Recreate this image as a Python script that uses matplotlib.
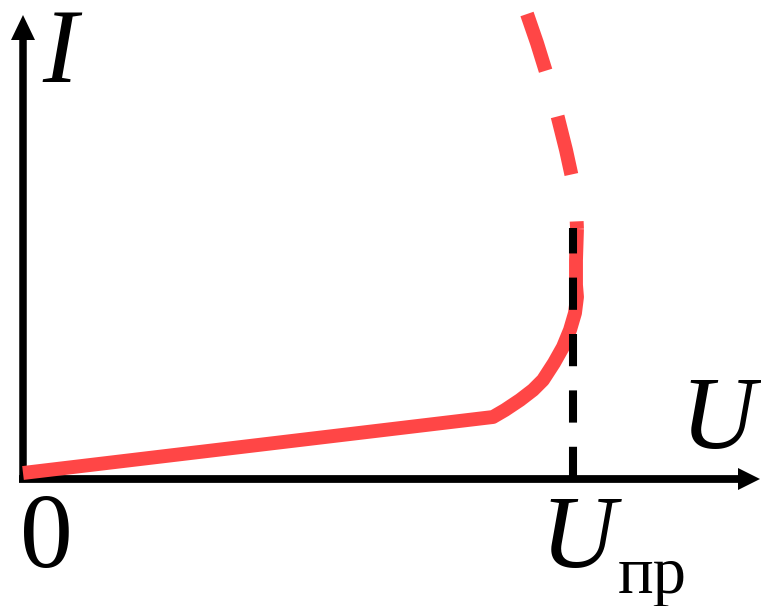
import matplotlib
matplotlib.use("Agg")
import matplotlib.pyplot as plt
from matplotlib.patches import Polygon

# I-U characteristic (arbitrary units, origin at axis crossing)
U_solid = [0, 470, 482, 497, 510, 520, 531, 540, 547, 552, 554, 553, 553, 554]
I_solid = [6, 62, 69, 79, 89, 99, 116, 132, 149, 166, 182, 194, 219, 250]
U_dash = [504, 514, 523, 529, 535, 543, 550, 553, 554]
I_dash = [465, 436, 407, 384, 361, 329, 297, 274, 250]
U_pr = 550
I_pr_top = 251

RED = "#ff4646"

fig = plt.figure(figsize=(7.61, 6.06), dpi=100)
ax = fig.add_axes([0, 0, 1, 1])
ax.set_xlim(-23, 738)
ax.set_ylim(-127, 479)
ax.axis("off")

# axes with arrows
ax.plot([0, 0], [-2, 440], color="black", lw=5.4, solid_capstyle="butt", zorder=2)
ax.add_patch(Polygon([[-12, 439], [12, 439], [0, 464]], closed=True,
                     color="black", lw=0, zorder=2))
ax.plot([-4, 716], [0, 0], color="black", lw=5.6, solid_capstyle="butt", zorder=2)
ax.add_patch(Polygon([[715, 11], [715, -11], [737, 0]], closed=True,
                     color="black", lw=0, zorder=2))

# curves
ax.plot(U_solid, I_solid, color=RED, lw=10, solid_capstyle="butt",
        solid_joinstyle="round", zorder=3)
ln, = ax.plot(U_dash, I_dash, color=RED, lw=10, dash_capstyle="butt", zorder=3)
ln.set_dashes([4.3, 3.4])
vl, = ax.plot([U_pr, U_pr], [0, I_pr_top], color="black", lw=5.8,
              dash_capstyle="butt", zorder=4)
vl.set_dashes([4, 3])

# labels
serif = ["Liberation Serif", "Times New Roman", "Nimbus Roman", "DejaVu Serif"]
ax.text(19, 479 - 82, "I", fontsize=76, family=serif, style="italic",
        ha="left", va="baseline")
ax.text(657, 479 - 448, "U", fontsize=75, family=serif, style="italic",
        ha="left", va="baseline")
ax.text(-3, 479 - 567, "0", fontsize=76, family=serif,
        ha="left", va="baseline")
ax.text(517, 479 - 567, "U", fontsize=75, family=serif, style="italic",
        ha="left", va="baseline")
ax.text(595, 479 - 593, "пр", fontsize=48, family=serif,
        ha="left", va="baseline")

fig.savefig("out.png", dpi=100, facecolor="white")
